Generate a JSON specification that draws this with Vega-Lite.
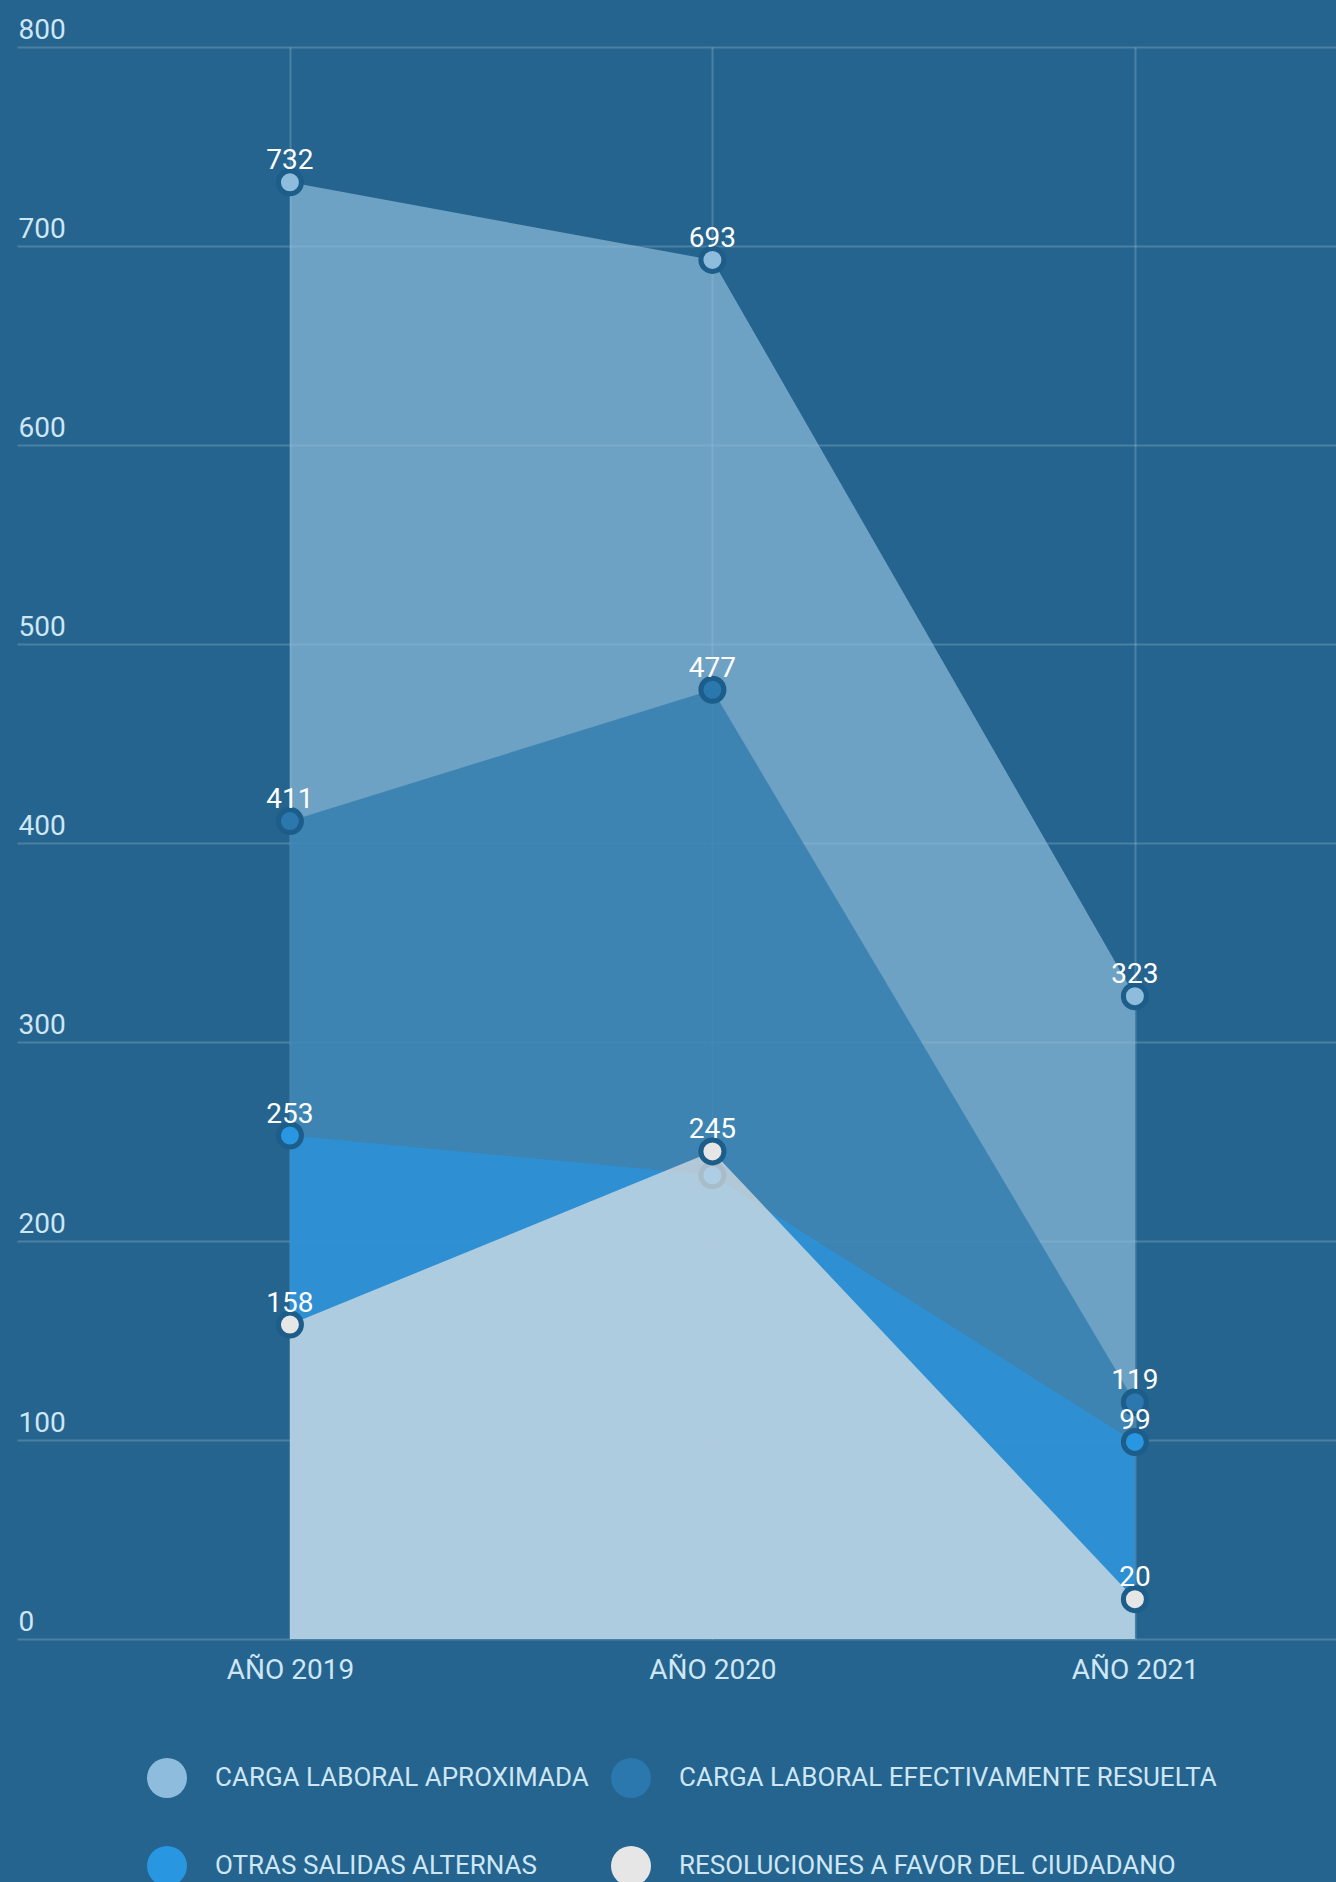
{
  "$schema": "https://vega.github.io/schema/vega-lite/v6.json",
  "width": 1319,
  "height": 1592,
  "autosize": "none",
  "padding": {"left": 17, "top": 47, "right": 0, "bottom": 243},
  "background": "#24648e",
  "config": {"view": {"stroke": null}, "font": "Roboto"},
  "data": {
    "values": [
      {"serie": "CARGA LABORAL APROXIMADA", "anio": 2019, "valor": 732},
      {"serie": "CARGA LABORAL APROXIMADA", "anio": 2020, "valor": 693},
      {"serie": "CARGA LABORAL APROXIMADA", "anio": 2021, "valor": 323},
      {"serie": "CARGA LABORAL EFECTIVAMENTE RESUELTA", "anio": 2019, "valor": 411},
      {"serie": "CARGA LABORAL EFECTIVAMENTE RESUELTA", "anio": 2020, "valor": 477},
      {"serie": "CARGA LABORAL EFECTIVAMENTE RESUELTA", "anio": 2021, "valor": 119},
      {"serie": "OTRAS SALIDAS ALTERNAS", "anio": 2019, "valor": 253},
      {"serie": "OTRAS SALIDAS ALTERNAS", "anio": 2020, "valor": 233},
      {"serie": "OTRAS SALIDAS ALTERNAS", "anio": 2021, "valor": 99},
      {"serie": "RESOLUCIONES A FAVOR DEL CIUDADANO", "anio": 2019, "valor": 158},
      {"serie": "RESOLUCIONES A FAVOR DEL CIUDADANO", "anio": 2020, "valor": 245},
      {"serie": "RESOLUCIONES A FAVOR DEL CIUDADANO", "anio": 2021, "valor": 20}
    ]
  },
  "encoding": {
    "x": {
      "field": "anio",
      "type": "quantitative",
      "scale": {"domain": [2018.354, 2021.476], "nice": false, "zero": false},
      "axis": {
        "values": [2019, 2020, 2021],
        "labelExpr": "'AÑO ' + datum.value",
        "grid": true,
        "gridColor": "#ffffff",
        "gridOpacity": 0.18,
        "gridWidth": 2,
        "domain": false,
        "ticks": false,
        "title": null,
        "labelFont": "Roboto",
        "labelFontSize": 28,
        "labelColor": "#cfe6f5",
        "labelPadding": 17,
        "labelFlush": false
      }
    },
    "y": {
      "field": "valor",
      "type": "quantitative",
      "stack": null,
      "scale": {"domain": [0, 800], "nice": false},
      "axis": {
        "values": [0, 100, 200, 300, 400, 500, 600, 700, 800],
        "grid": true,
        "gridColor": "#ffffff",
        "gridOpacity": 0.18,
        "gridWidth": 2,
        "domain": false,
        "ticks": false,
        "tickSize": 0,
        "title": null,
        "labelAlign": "left",
        "labelBaseline": "alphabetic",
        "labelPadding": -1,
        "labelOffset": -9,
        "labelFont": "Roboto",
        "labelFontSize": 28,
        "labelColor": "#cfe6f5",
        "labelFlush": false,
        "labelOverlap": false
      }
    },
    "color": {
      "field": "serie",
      "type": "nominal",
      "scale": {
        "domain": ["CARGA LABORAL APROXIMADA", "CARGA LABORAL EFECTIVAMENTE RESUELTA", "OTRAS SALIDAS ALTERNAS", "RESOLUCIONES A FAVOR DEL CIUDADANO"],
        "range": ["#8dbcdc", "#2a78ad", "#2896e0", "#e6e6e6"]
      },
      "legend": {
        "title": null,
        "orient": "none",
        "legendX": 130,
        "legendY": 1711,
        "padding": 0,
        "direction": "horizontal",
        "columns": 2,
        "symbolType": "circle",
        "symbolSize": 1600,
        "symbolOpacity": 1,
        "symbolStrokeWidth": 0,
        "labelFont": "Roboto",
        "labelFontSize": 26,
        "labelColor": "#cfe6f5",
        "labelLimit": 1000,
        "labelOffset": 28,
        "columnPadding": 22,
        "rowPadding": 48
      }
    }
  },
  "layer": [
    {
      "transform": [{"filter": "datum.serie != 'RESOLUCIONES A FAVOR DEL CIUDADANO'"}],
      "mark": {"type": "area", "opacity": 0.7}
    },
    {
      "transform": [{"filter": "datum.serie != 'RESOLUCIONES A FAVOR DEL CIUDADANO'"}],
      "mark": {"type": "point", "filled": true, "size": 530, "stroke": "#1c5d8a", "strokeWidth": 5, "opacity": 1}
    },
    {
      "transform": [{"filter": "datum.serie == 'RESOLUCIONES A FAVOR DEL CIUDADANO'"}],
      "mark": {"type": "area", "opacity": 0.7}
    },
    {
      "transform": [{"filter": "datum.serie == 'RESOLUCIONES A FAVOR DEL CIUDADANO'"}],
      "mark": {"type": "point", "filled": true, "size": 530, "stroke": "#1c5d8a", "strokeWidth": 5, "opacity": 1}
    },
    {
      "transform": [{"filter": "!(datum.serie == 'OTRAS SALIDAS ALTERNAS' && datum.anio == 2020)"}],
      "mark": {"type": "text", "align": "center", "baseline": "alphabetic", "dy": -13, "font": "Roboto", "fontSize": 28, "color": "#ffffff"},
      "encoding": {
        "text": {"field": "valor", "type": "quantitative"},
        "color": {"value": "#ffffff"}
      }
    }
  ]
}
